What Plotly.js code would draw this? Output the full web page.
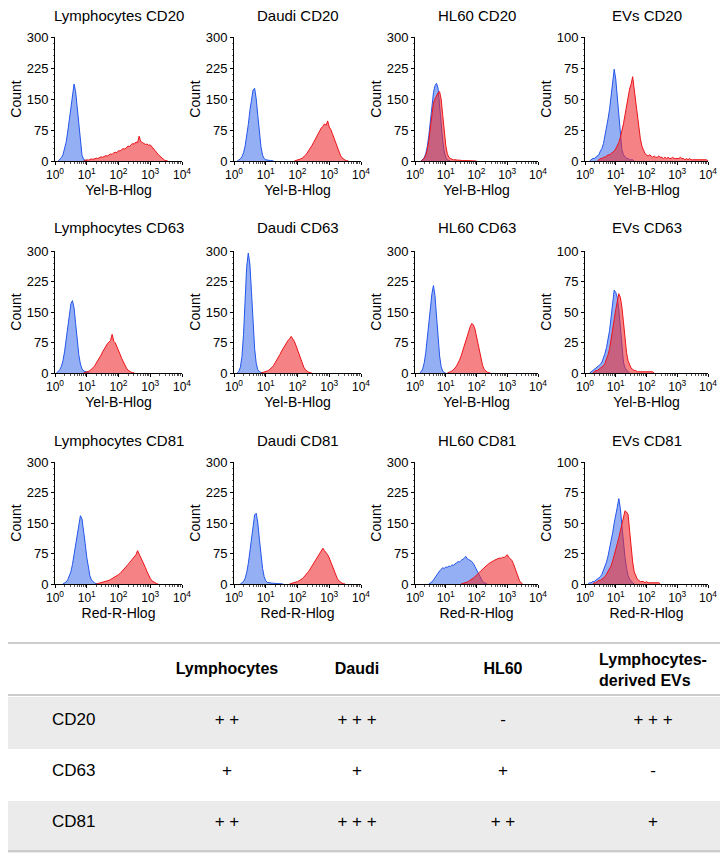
<!DOCTYPE html>
<html><head><meta charset="utf-8">
<script src="https://cdn.plot.ly/plotly-3.0.1.min.js"></script>
<style>html,body{margin:0;padding:0;background:#fff}#chart{width:728px;height:860px}</style>
</head><body><div id="chart"></div>
<script>
// ---------- data ----------
const cellNames = ['Lymphocytes', 'Daudi', 'HL60', 'EVs'];
const markers = ['CD20', 'CD63', 'CD81'];
const channels = ['Yel-B-Hlog', 'Yel-B-Hlog', 'Red-R-Hlog'];
const yMaxByCell = [300, 300, 300, 100];
const xTickVals = [1, 10, 100, 1000, 10000];
const xTickText = ['10<sup>0</sup>', '10<sup>1</sup>', '10<sup>2</sup>', '10<sup>3</sup>', '10<sup>4</sup>'];
const yTicks300 = [0, 75, 150, 225, 300];
const yTicks100 = [0, 25, 50, 75, 100];
const BIN = 0.05; // histogram channel width (decades)

// start exponent of each histogram (first channel shown) + counts per channel
const lymCD20B_start = 0.10, lymCD20B = [0,3,8,15,28,45,70,98,128,158,186,168,130,78,38,14,4,1,0];
const lymCD20R_start = 0.90, lymCD20R = [0,1,3,2,4,5,4,6,7,6,9,10,9,12,13,12,15,17,16,20,21,20,25,24,28,30,29,34,36,35,40,42,41,46,44,60,47,45,43,40,41,38,39,34,30,26,21,16,12,8,5,2,1,0];
const daudiCD20B_start = 0.10, daudiCD20B = [0,2,5,10,20,36,58,88,122,152,172,176,150,110,66,34,14,6,3,2,1,1,1,0];
const daudiCD20R_start = 1.90, daudiCD20R = [0,1,2,3,5,7,10,14,19,24,30,37,44,52,60,68,74,80,84,90,86,97,82,76,66,56,44,33,22,14,8,4,2,1,0];
const hl60CD20B_start = 0.20, hl60CD20B = [0,3,8,18,35,62,98,135,165,182,188,176,140,92,50,22,9,3,1,0];
const hl60CD20R_start = 0.20, hl60CD20R = [0,2,6,14,28,50,80,112,140,150,160,165,168,150,112,70,38,18,9,6,4,3,3,2,2,2,1,1,1,1,1,1,1,1,1,1,0];
const evCD20B_start = 0.15, evCD20B = [0,1,2,2,3,4,5,8,10,14,20,27,34,42,52,62,74,66,50,34,18,9,5,3,2,2,1,1,1,0];
const evCD20R_start = 0.40, evCD20R = [0,1,2,2,3,3,4,5,5,6,7,8,10,12,15,19,24,30,37,45,52,58,62,68,58,48,36,26,18,12,8,6,5,4,5,4,3,4,3,3,4,3,3,2,3,2,3,2,2,3,2,2,2,2,3,2,2,1,2,1,2,1,1,1,1,1,1,1,1,1,1,1,0];

const lymCD63B_start = 0.05, lymCD63B = [0,3,8,16,30,52,82,118,150,170,178,160,122,80,45,22,10,5,3,2,1,0];
const lymCD63R_start = 0.90, lymCD63R = [0,1,2,4,6,9,13,18,24,30,37,44,52,59,66,72,76,80,95,78,74,66,56,46,36,27,19,12,7,4,2,1,0];
const daudiCD63B_start = 0.10, daudiCD63B = [0,4,14,40,95,175,262,295,268,200,120,60,24,8,3,1,0];
const daudiCD63R_start = 0.85, daudiCD63R = [0,1,2,3,5,7,10,14,19,25,32,39,46,54,61,68,74,80,84,90,84,78,68,56,44,32,22,14,8,4,2,1,0];
const hl60CD63B_start = 0.15, hl60CD63B = [0,3,10,25,50,88,130,168,195,215,190,140,85,42,16,5,1,0];
const hl60CD63R_start = 1.05, hl60CD63R = [0,1,3,5,8,12,17,24,32,42,54,67,80,94,106,115,122,118,108,90,70,50,32,18,9,4,2,1,0];
const evCD63B_start = 0.15, evCD63B = [0,1,2,3,4,5,6,7,9,12,16,21,27,35,46,58,68,66,62,52,36,20,9,4,2,1,0];
const evCD63R_start = 0.25, evCD63R = [0,1,2,2,3,4,5,6,8,11,15,20,27,35,44,52,60,65,62,54,42,28,17,10,6,4,3,2,2,1,1,1,1,1,1,1,1,1,1,1,0];

const lymCD81B_start = 0.25, lymCD81B = [0,2,5,10,18,30,48,72,100,130,155,168,160,135,100,66,38,20,10,5,2,1,0];
const lymCD81R_start = 1.30, lymCD81R = [0,1,2,3,4,5,6,8,9,11,13,15,17,20,23,26,30,34,38,43,48,53,58,63,68,72,82,74,68,60,50,40,30,21,14,8,5,3,1,0];
const daudiCD81B_start = 0.20, daudiCD81B = [0,2,6,14,28,50,82,118,150,170,174,150,110,70,38,18,8,4,3,2,2,2,1,1,1,1,1,0];
const daudiCD81R_start = 1.75, daudiCD81R = [0,1,2,3,4,6,8,10,13,17,21,26,31,37,43,50,57,64,70,76,80,88,82,78,72,64,54,43,32,22,14,8,4,2,1,0];
const hl60CD81B_start = 0.45, hl60CD81B = [0,2,5,10,16,22,28,32,36,40,38,42,41,44,43,47,46,50,52,55,54,58,60,63,68,62,60,58,55,50,42,34,26,18,11,6,3,1,0];
const hl60CD81R_start = 1.50, hl60CD81R = [0,1,2,3,5,7,9,12,15,18,21,25,29,33,37,41,44,47,50,53,55,57,59,61,62,64,63,66,65,68,72,66,63,58,50,40,28,16,8,3,0];
const evCD81B_start = 0.10, evCD81B = [0,1,1,2,2,3,4,5,6,8,11,14,18,23,29,35,42,50,58,63,70,62,48,34,22,13,7,4,2,1,0];
const evCD81R_start = 0.25, evCD81R = [0,1,1,2,3,3,4,5,6,8,10,12,15,19,23,28,33,38,44,50,56,60,59,57,44,30,18,10,6,4,3,2,2,2,1,2,1,1,1,1,1,1,1,1,0];

// table
const tableCols = ['Lymphocytes', 'Daudi', 'HL60', 'Lymphocytes-<br>derived EVs'];
const scoreLym = ['+ +', '+', '+ +'];
const scoreDaudi = ['+ + +', '+', '+ + +'];
const scoreHL60 = ['-', '+', '+ +'];
const scoreEVs = ['+ + +', '-', '+'];

// ---------- layout helpers ----------
const W = 728, H = 860;
const colPx = [[55, 182], [234, 361], [415, 538], [585, 708]];
const rowPx = [[37, 161], [251, 373], [462, 584]];
const titlePy = [16, 228, 440];
const px = v => v / W, py = v => 1 - v / H;

const hist = [
  [[lymCD20B_start, lymCD20B, lymCD20R_start, lymCD20R], [daudiCD20B_start, daudiCD20B, daudiCD20R_start, daudiCD20R], [hl60CD20B_start, hl60CD20B, hl60CD20R_start, hl60CD20R], [evCD20B_start, evCD20B, evCD20R_start, evCD20R]],
  [[lymCD63B_start, lymCD63B, lymCD63R_start, lymCD63R], [daudiCD63B_start, daudiCD63B, daudiCD63R_start, daudiCD63R], [hl60CD63B_start, hl60CD63B, hl60CD63R_start, hl60CD63R], [evCD63B_start, evCD63B, evCD63R_start, evCD63R]],
  [[lymCD81B_start, lymCD81B, lymCD81R_start, lymCD81R], [daudiCD81B_start, daudiCD81B, daudiCD81R_start, daudiCD81R], [hl60CD81B_start, hl60CD81B, hl60CD81R_start, hl60CD81R], [evCD81B_start, evCD81B, evCD81R_start, evCD81R]]
];

const FONT = 'Liberation Sans, Arial, sans-serif';
const data = [];
const layout = {
  width: W, height: H, margin: {l: 0, r: 0, t: 0, b: 0},
  paper_bgcolor: '#fff', plot_bgcolor: 'rgba(0,0,0,0)',
  font: {family: FONT, color: '#000', size: 12},
  showlegend: false, annotations: [], shapes: []
};

const blueLine = 'rgb(35,85,235)', blueFill = 'rgba(60,110,235,0.55)';
const redLine = 'rgb(235,20,25)', redFill = 'rgba(238,40,45,0.58)';

function channelX(start, n) {
  const xs = [];
  for (let i = 0; i < n; i++) xs.push(Math.pow(10, start + i * BIN));
  return xs;
}

for (let r = 0; r < 3; r++) {
  for (let c = 0; c < 4; c++) {
    const n = r * 4 + c + 1;
    const xa = 'x' + (n > 1 ? n : ''), ya = 'y' + (n > 1 ? n : '');
    const [bs, bv, rs, rv] = hist[r][c];
    data.push({type: 'scatter', mode: 'lines', x: channelX(bs, bv.length), y: bv, xaxis: xa, yaxis: ya,
      fill: 'tozeroy', fillcolor: blueFill, line: {color: blueLine, width: 1}, hoverinfo: 'skip'});
    data.push({type: 'scatter', mode: 'lines', x: channelX(rs, rv.length), y: rv, xaxis: xa, yaxis: ya,
      fill: 'tozeroy', fillcolor: redFill, line: {color: redLine, width: 1}, hoverinfo: 'skip'});
    const ymax = yMaxByCell[c];
    layout['xaxis' + (n > 1 ? n : '')] = {
      domain: [px(colPx[c][0]), px(colPx[c][1])], anchor: ya, type: 'log', range: [0, 4],
      tickvals: xTickVals, ticktext: xTickText, ticks: 'outside', ticklen: 3, tickwidth: 1, tickcolor: '#000',
      minor: {ticks: 'outside', ticklen: 2, tickcolor: '#555', dtick: 'D1'},
      showline: true, linecolor: '#000', linewidth: 1, showgrid: false, zeroline: false,
      tickfont: {size: 12, family: FONT},
      title: {text: channels[r], font: {size: 14, family: FONT}, standoff: 3}
    };
    layout['yaxis' + (n > 1 ? n : '')] = {
      domain: [py(rowPx[r][1]), py(rowPx[r][0])], anchor: xa, range: [0, ymax],
      tickvals: ymax === 300 ? yTicks300 : yTicks100, ticks: 'outside', ticklen: 3, tickcolor: '#000',
      minor: {ticks: 'outside', ticklen: 1.5, tickcolor: '#777', dtick: ymax / 20},
      showline: true, linecolor: '#000', linewidth: 1, showgrid: false, zeroline: false,
      tickfont: {size: 13, family: FONT},
      title: {text: 'Count', font: {size: 14, family: FONT}, standoff: 1}
    };
    layout.annotations.push({
      xref: 'paper', yref: 'paper', x: px((colPx[c][0] + colPx[c][1]) / 2), y: py(titlePy[r]),
      xanchor: 'center', yanchor: 'middle', showarrow: false,
      text: cellNames[c] + ' ' + markers[r], font: {size: 15, family: FONT}
    });
  }
}

// ---------- table ----------
// Table A: row fills + the two-line header; Table B: the remaining text, nudged down so it sits mid-row
const rowFill = ['#ebebeb', '#ffffff', '#ebebeb'];
const colW = [36, 116, 134, 126, 166, 134];
const aligns = ['center', 'left', 'center', 'center', 'center', 'center'];
const clear = 'rgba(0,0,0,0)';
const twoLine = tableCols.map(t => t.indexOf('<br>') >= 0);
data.push({
  type: 'table',
  domain: {x: [px(8), px(720)], y: [0, py(643)]},
  columnwidth: colW,
  header: {
    values: ['', ''].concat(tableCols.map((t, i) => twoLine[i] ? '<b>' + t + '</b>' : '')),
    align: aligns, height: 52, fill: {color: '#ffffff'}, line: {width: 0, color: '#ffffff'},
    font: {family: FONT, size: 16, color: '#000'}
  },
  cells: {
    values: [['', '', ''], ['', '', ''], ['', '', ''], ['', '', ''], ['', '', ''], ['', '', '']],
    align: aligns, height: 52, fill: {color: [rowFill]}, line: {width: 0, color: [rowFill]},
    font: {family: FONT, size: 17, color: '#000'}
  }
});
data.push({
  type: 'table',
  domain: {x: [px(8), px(720)], y: [0, py(652)]},
  columnwidth: colW,
  header: {
    values: ['', ''].concat(tableCols.map((t, i) => twoLine[i] ? '' : '<b>' + t + '</b>')),
    align: aligns, height: 52, fill: {color: clear}, line: {width: 0, color: clear},
    font: {family: FONT, size: 16, color: '#000'}
  },
  cells: {
    values: [['', '', ''], markers, scoreLym, scoreDaudi, scoreHL60, scoreEVs],
    align: aligns, height: 51, fill: {color: clear}, line: {width: 0, color: clear},
    font: {family: FONT, size: 17, color: '#000'}
  }
});
[643, 695, 851].forEach(yv => layout.shapes.push({
  type: 'line', xref: 'paper', yref: 'paper', x0: px(8), x1: px(720), y0: py(yv), y1: py(yv),
  line: {color: '#cccccc', width: 2}, layer: 'above'
}));

Plotly.newPlot('chart', data, layout, {staticPlot: true, displayModeBar: false});
</script></body></html>
